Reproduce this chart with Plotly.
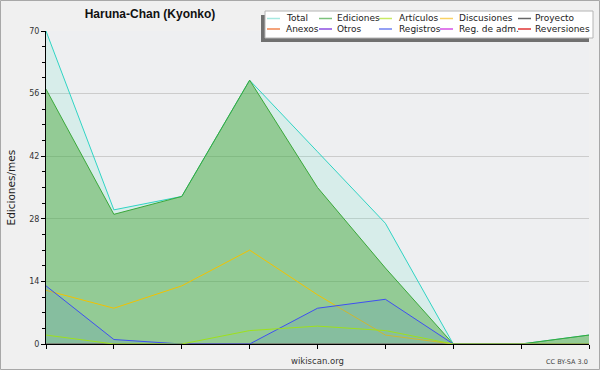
import plotly.graph_objects as go

# ---- data ----
months = [0, 1, 2, 3, 4, 5, 6, 7, 8]
total = [70, 30, 33, 59, 43, 27, 0, 0, 2]
ediciones = [57, 29, 33, 59, 35, 17, 0, 0, 2]
articulos = [2, 0, 0, 3, 4, 3, 0, 0, 0]
discusiones = [12, 8, 13, 21, 11, 2, 0, 0, 0]
registros = [13, 1, 0, 0, 8, 10, 0, 0, 0]
proyecto = [0, 0, 0, 0, 0, 0, 0, 0, 0]
anexos = [0, 0, 0, 0, 0, 0, 0, 0, 0]
otros = [0, 0, 0, 0, 0, 0, 0, 0, 0]
reg_adm = [0, 0, 0, 0, 0, 0, 0, 0, 0]
reversiones = [0, 0, 0, 0, 0, 0, 0, 0, 0]

y_ticks = [0, 14, 28, 42, 56, 70]

legend_names = [["Total", "Ediciones", "Artículos", "Discusiones", "Proyecto"],
                ["Anexos", "Otros", "Registros", "Reg. de adm.", "Reversiones"]]
legend_colors = [["#a6e8e0", "#7cc27c", "#c8ea64", "#f8d264", "#666666"],
                 ["#f0844f", "#8c4ee0", "#7080f0", "#d650e4", "#e03434"]]

FONT = "DejaVu Sans"
W_FIG, H_FIG = 600, 370
L, R, T, B = 46, 11, 31, 26
PW, PH = W_FIG - L - R, H_FIG - T - B


def px(xp):
    return (xp - L) / PW


def py(yp):
    return (H_FIG - B - yp) / PH


fig = go.Figure()

for vals, col in [(proyecto, "#666666"), (anexos, "#f0844f"), (otros, "#8c4ee0"),
                  (reg_adm, "#d650e4"), (reversiones, "#e03434")]:
    fig.add_trace(go.Scatter(x=months, y=vals, mode="lines",
                             line=dict(color=col, width=1), showlegend=False, hoverinfo="skip"))

fig.add_trace(go.Scatter(x=months, y=total, mode="lines", name="Total",
                         line=dict(color="#30d4c4", width=1),
                         fill="tozeroy", fillcolor="rgba(100,230,200,0.17)", showlegend=False))
fig.add_trace(go.Scatter(x=months, y=ediciones, mode="lines", name="Ediciones",
                         line=dict(color="#3aa83a", width=1),
                         fill="tozeroy", fillcolor="rgba(65,161,47,0.45)", showlegend=False))
fig.add_trace(go.Scatter(x=months, y=discusiones, mode="lines", name="Discusiones",
                         line=dict(color="#f2c200", width=1), showlegend=False))
fig.add_trace(go.Scatter(x=months, y=registros, mode="lines", name="Registros",
                         line=dict(color="#3f4ff2", width=1),
                         fill="tozeroy", fillcolor="rgba(95,153,193,0.25)", showlegend=False))
fig.add_trace(go.Scatter(x=months, y=articulos, mode="lines", name="Artículos",
                         line=dict(color="#9ee01c", width=1), showlegend=False))

shapes = []
annotations = []

# page border
shapes.append(dict(type="rect", xref="paper", yref="paper",
                   x0=px(0.5), x1=px(599.5), y0=py(369.5), y1=py(0.5),
                   line=dict(color="#a8a8a8", width=1), layer="below"))

# legend shadow + box
shapes.append(dict(type="rect", xref="paper", yref="paper",
                   x0=px(261), x1=px(589), y0=py(42), y1=py(15),
                   fillcolor="#707070", line=dict(width=0), layer="above"))
shapes.append(dict(type="rect", xref="paper", yref="paper",
                   x0=px(265), x1=px(593), y0=py(38), y1=py(11),
                   fillcolor="#ffffff", line=dict(color="#b4b4b4", width=1), layer="above"))

sym_x = [267, 319, 379, 440, 518]
txt_x = [284, 335, 397, 457, 533]
row_y = [18.5, 29]
for r in range(2):
    for c in range(5):
        shapes.append(dict(type="line", xref="paper", yref="paper",
                           x0=px(sym_x[c]), x1=px(sym_x[c] + 13), y0=py(row_y[r]), y1=py(row_y[r]),
                           line=dict(color=legend_colors[r][c], width=1.5), layer="above"))
        annotations.append(dict(text=legend_names[r][c], xref="paper", yref="paper",
                                x=px(txt_x[c]), y=py(row_y[r]), xanchor="left", yanchor="middle",
                                showarrow=False, font=dict(family=FONT, size=9, color="#222222")))

# y axis title
annotations.append(dict(text="Ediciones/mes", xref="paper", yref="paper",
                        x=px(10), y=0.5, textangle=-90, xanchor="center", yanchor="middle",
                        showarrow=False, font=dict(family=FONT, size=10.5, color="#222222")))
# footer
annotations.append(dict(text="wikiscan.org", xref="paper", yref="paper",
                        x=px(317), y=py(361), xanchor="center", yanchor="middle",
                        showarrow=False, font=dict(family=FONT, size=8.5, color="#333333")))
annotations.append(dict(text="CC BY-SA 3.0", xref="paper", yref="paper",
                        x=px(590), y=py(362), xanchor="right", yanchor="middle",
                        showarrow=False, font=dict(family=FONT, size=6.5, color="#444444")))

fig.update_layout(
    width=W_FIG, height=H_FIG,
    margin=dict(l=L, r=R, t=T, b=B, pad=0),
    paper_bgcolor="#f0f0f0",
    plot_bgcolor="#eeeff1",
    showlegend=False,
    title=dict(text="<b>Haruna-Chan (Kyonko)</b>", x=0.25, xref="container", xanchor="center",
               y=1 - 14 / H_FIG, yanchor="middle",
               font=dict(family="Liberation Sans", size=12, color="#111111")),
    shapes=shapes,
    annotations=annotations,
    xaxis=dict(range=[0, 8], tickvals=months, showticklabels=False, ticks="outside",
               ticklen=4, tickcolor="#000000", showgrid=False, zeroline=False,
               showline=True, linecolor="#000000", linewidth=1, fixedrange=True),
    yaxis=dict(range=[0, 70], tickvals=y_ticks, ticks="outside", ticklen=4,
               tickcolor="#000000", showgrid=True, gridcolor="#cccccc", gridwidth=1,
               zeroline=False, showline=True, linecolor="#000000", linewidth=1,
               tickfont=dict(family=FONT, size=8, color="#333333"),
               minor=dict(dtick=3.5, ticks="outside", ticklen=3, tickcolor="#000000", showgrid=False),
               fixedrange=True),
)

fig.write_html("out.html", config={"displayModeBar": False},
               post_script="document.body.style.margin='0';document.body.style.overflow='hidden';")
